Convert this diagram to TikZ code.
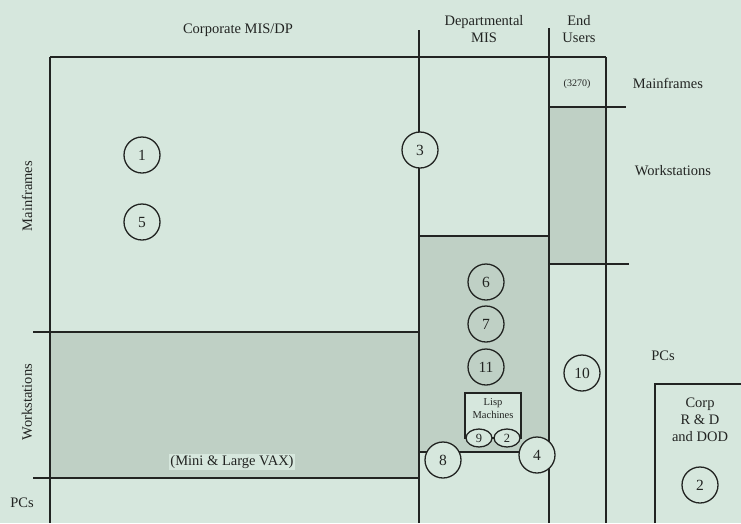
\documentclass[tikz,border=0pt]{standalone}
\usepackage{fontspec}
\setmainfont{Liberation Serif}
\usetikzlibrary{shapes.geometric}
\definecolor{bgcol}{RGB}{214,231,221}
\definecolor{shadecol}{RGB}{191,208,197}
\definecolor{ink}{RGB}{34,36,34}
\begin{document}
\begin{tikzpicture}[x=1pt,y=-1pt,
  rule/.style={draw=ink,line width=2pt},
  heavy/.style={draw=ink,line width=2.6pt},
  num/.style={circle,draw=ink,line width=1.3pt,minimum size=36pt,inner sep=0pt,
    font=\fontsize{15.5}{15.5}\selectfont,text=ink},
  oval/.style={ellipse,draw=ink,line width=1.3pt,minimum width=26pt,minimum height=18pt,
    inner sep=0pt,fill=bgcol,font=\fontsize{12.5}{12.5}\selectfont,text=ink},
  lbl/.style={font=\fontsize{14.5}{17}\selectfont,text=ink,inner sep=1pt,align=center},
  small/.style={font=\fontsize{10}{12}\selectfont,text=ink,inner sep=1pt,align=center}]
\useasboundingbox[fill=bgcol] (0,0) rectangle (741,523);
% shaded regions
\fill[shadecol] (50,332) rectangle (419,478);
\fill[shadecol] (419,236) rectangle (549,452);
\fill[shadecol] (549,107) rectangle (606,264);
% rules
\draw[heavy] (50,57) -- (606,57);
\draw[heavy] (50,57) -- (50,523);
\draw[rule] (419,30) -- (419,523);
\draw[rule] (549,28) -- (549,523);
\draw[rule] (606,57) -- (606,523);
\draw[rule] (549,107) -- (626,107);
\draw[rule] (549,264) -- (629,264);
\draw[rule] (419,236) -- (549,236);
\draw[rule] (33,332) -- (419,332);
\draw[rule] (33,478) -- (419,478);
\draw[rule] (419,452) -- (540,452);
\draw[rule] (655,523) -- (655,384) -- (741,384);
% headings
\node[lbl] (hcorp) at (238,30) {Corporate MIS/DP};
\node[lbl] (hdept) at (484,29) {Departmental\\MIS};
\node[lbl] (hend) at (579,29) {End\\Users};
\node[small] (t3270) at (577,84) {(3270)};
\node[lbl] (rmain) at (668,83) {Mainframes};
\node[lbl] (rwork) at (673,171) {Workstations};
\node[lbl] (rpc) at (663,356) {PCs};
\node[lbl,rotate=90] (lmain) at (27,196) {Mainframes};
\node[lbl,rotate=90] (lwork) at (27,402) {Workstations};
\node[lbl] (lpc) at (22,503) {PCs};
\node[lbl,fill=bgcol] (vax) at (232,462) {(Mini \& Large VAX)};
\node[lbl] (corp) at (700,420) {Corp\\R \& D\\and DOD};
% Lisp machines box
\draw[draw=ink,line width=1.3pt,fill=bgcol] (465,393) rectangle (521,438);
\node[small,font=\fontsize{10.5}{13}\selectfont] (lisp) at (493,409) {Lisp\\Machines};
\node[oval] (o9) at (479,438) {9};
\node[oval] (o2) at (507,438) {2};
% numbered circles
\node[num] (c1) at (142,155) {1};
\node[num] (c5) at (142,222) {5};
\node[num,fill=bgcol] (c3) at (420,150) {3};
\node[num] (c6) at (486,282) {6};
\node[num] (c7) at (486,324) {7};
\node[num] (c11) at (486,367) {11};
\node[num] (c10) at (582,373) {10};
\node[num,fill=bgcol] (c8) at (443,460) {8};
\node[num,fill=bgcol] (c4) at (537,455) {4};
\node[num] (c2) at (700,485) {2};
\end{tikzpicture}
\end{document}
